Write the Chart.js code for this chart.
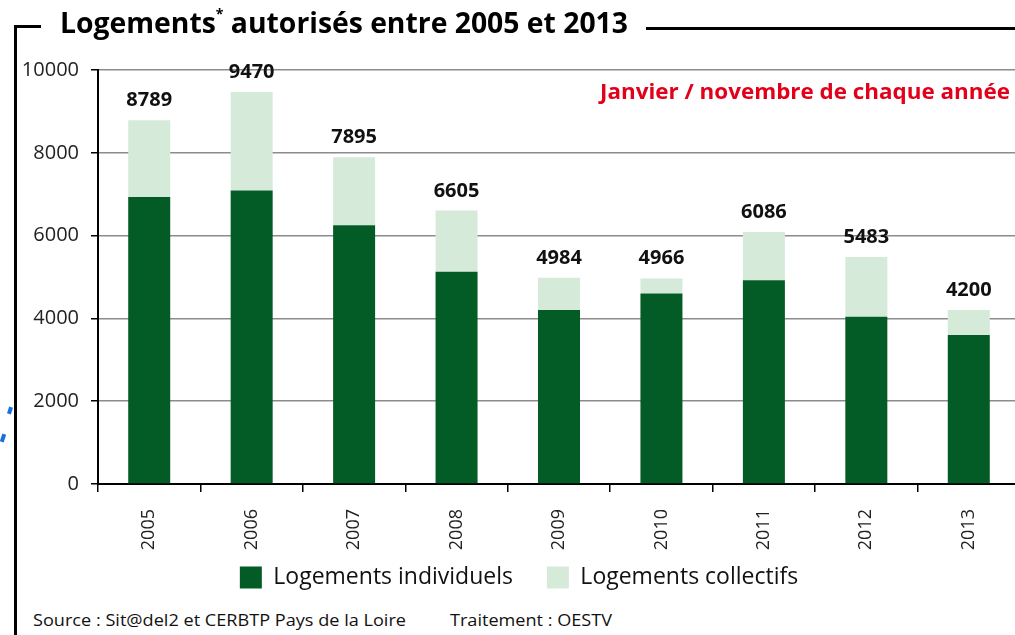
<!DOCTYPE html>
<html lang="fr">
<head>
<meta charset="utf-8">
<title>Logements autorisés entre 2005 et 2013</title>
<script src="https://cdn.jsdelivr.net/npm/chart.js@4.4.0/dist/chart.umd.min.js"></script>
<style>
  html, body { margin:0; padding:0; background:#fff; overflow:hidden; }
  #wrap { position:relative; width:1015px; height:635px; overflow:hidden; font-family:"Open Sans", sans-serif; }
  #chart { position:absolute; left:0; top:0; }
  .rule { position:absolute; background:#000; }
  .txt { position:absolute; white-space:nowrap; line-height:1; transform-origin:left top; display:inline-block; }
  #title { left:60px; top:8px; font-weight:bold; font-size:28px; color:#000; }
  #title sup { font-size:14px; vertical-align:top; position:relative; top:-1px; }
  #period { left:600px; top:81px; font-weight:bold; font-size:21px; color:#e2001a; }
  #source { left:33px; top:611px; font-size:17px; color:#111; }
  #traitement { left:450px; top:611px; font-size:17px; color:#111; }
  .blue { position:absolute; background:#1a6fe0; width:4px; transform:rotate(18deg); }
</style>
</head>
<body>
<div id="wrap">
  <canvas id="chart" width="1020" height="599"></canvas>
  <div class="rule" style="left:14px; top:25px; width:3px; height:610px;"></div>
  <div class="rule" style="left:14px; top:25px; width:27px; height:3px;"></div>
  <div class="rule" style="left:646px; top:27px; width:369px; height:3px;"></div>
  <span class="txt" id="title">Logements<sup>*</sup> autorisés entre 2005 et 2013</span>
  <span class="txt" id="period">Janvier / novembre de chaque année</span>
  <span class="txt" id="source">Source : Sit@del2 et CERBTP Pays de la Loire</span>
  <span class="txt" id="traitement">Traitement : OESTV</span>
  <div class="blue" style="left:8px; top:407px; height:7px;"></div>
  <div class="blue" style="left:1px; top:434px; height:8px;"></div>
</div>
<script>
/* ---- data ---- */
const years = ['2005', '2006', '2007', '2008', '2009', '2010', '2011', '2012', '2013'];
const totals = [8789, 9470, 7895, 6605, 4984, 4966, 6086, 5483, 4200];
const individuels = [6930, 7090, 6250, 5125, 4200, 4600, 4920, 4040, 3600];
const collectifs = [1859, 2380, 1645, 1480, 784, 366, 1166, 1443, 600];
const yTicks = [0, 2000, 4000, 6000, 8000, 10000];

const DARK = '#035b25';
const LIGHT = '#d6eada';

/* squeeze the condensed texts to their width in the picture */
function fitWidth(id, target){
  const el = document.getElementById(id);
  const w = el.getBoundingClientRect().width;
  el.style.transform = `scaleX(${target / w})`;
}
fitWidth('title', 568);
fitWidth('period', 410);
fitWidth('source', 373);
fitWidth('traitement', 162);

/* totals above each bar */
const totalLabels = {
  id: 'totalLabels',
  afterDatasetsDraw(chart){
    const { ctx, scales: { y } } = chart;
    const meta = chart.getDatasetMeta(1);
    ctx.save();
    ctx.font = 'bold 20px "Open Sans"';
    ctx.fillStyle = '#111';
    ctx.textAlign = 'center';
    ctx.textBaseline = 'alphabetic';
    meta.data.forEach((bar, i) => {
      ctx.fillText(String(totals[i]), bar.x, y.getPixelForValue(totals[i]) - 14);
    });
    ctx.restore();
  }
};

Chart.defaults.font.family = '"Open Sans", sans-serif';

new Chart(document.getElementById('chart'), {
  type: 'bar',
  data: {
    labels: years,
    datasets: [
      { label: 'Logements individuels', data: individuels, backgroundColor: DARK, borderWidth: 0 },
      { label: 'Logements collectifs', data: collectifs, backgroundColor: LIGHT, borderWidth: 0 }
    ]
  },
  options: {
    responsive: false,
    animation: false,
    devicePixelRatio: 1,
    barPercentage: 0.41,
    categoryPercentage: 1,
    // left padding only nudges the centred legend to the right
    layout: { padding: { top: 70, left: 18, right: 0, bottom: 0 } },
    plugins: {
      tooltip: { enabled: false },
      legend: {
        position: 'bottom',
        labels: {
          boxWidth: 22, boxHeight: 22, padding: 10, color: '#111', font: { size: 23 },
          generateLabels(chart){
            // wider gap after the first entry, as in the picture
            return Chart.defaults.plugins.legend.labels.generateLabels(chart).map((it, i) => {
              if (i === 0) it.text = it.text + '\u00a0\u00a0\u00a0\u00a0';
              return it;
            });
          }
        }
      }
    },
    scales: {
      x: {
        stacked: true,
        grid: { drawOnChartArea: false, drawTicks: true, tickLength: 8, tickColor: '#000', lineWidth: 1.5, offset: true },
        border: { color: '#000', width: 2 },
        ticks: { color: '#222', font: { size: 18 }, minRotation: 90, maxRotation: 90, padding: 17 },
        afterFit(s){ s.height = 72; }
      },
      y: {
        stacked: true,
        min: 0,
        max: 10000,
        grid: { color: '#8c8c8c', lineWidth: 1.5, tickLength: 7, tickColor: '#000' },
        border: { color: '#000', width: 2 },
        ticks: { color: '#222', font: { size: 20 }, padding: 12, callback: v => String(v) },
        afterBuildTicks(s){ s.ticks = yTicks.map(v => ({ value: v })); },
        afterFit(s){ s.width = 80; }
      }
    }
  },
  plugins: [totalLabels]
});
</script>
</body>
</html>
